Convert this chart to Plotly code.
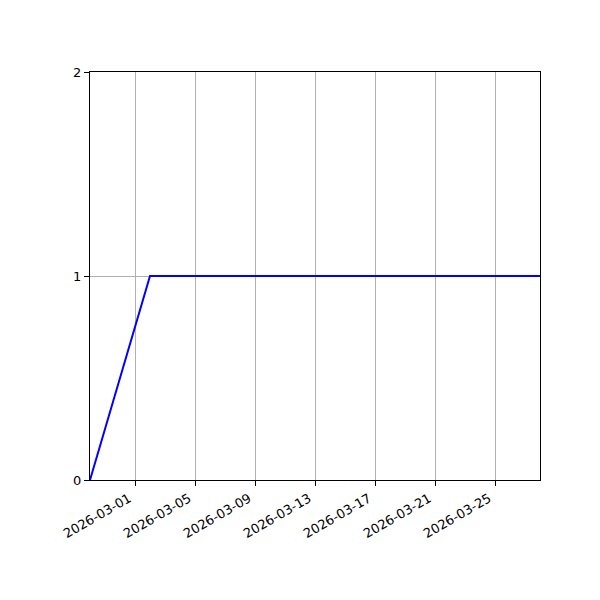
import plotly.graph_objects as go

# series
dates = ["2026-02-26", "2026-03-02", "2026-03-28"]
values = [0, 1, 1]

x_ticks = ["2026-03-01", "2026-03-05", "2026-03-09", "2026-03-13",
           "2026-03-17", "2026-03-21", "2026-03-25"]
y_ticks = [0, 1, 2]

fig = go.Figure()
fig.add_trace(go.Scatter(x=dates, y=values, mode="lines",
                         line=dict(color="#0000ff", width=2),
                         showlegend=False))

axis_style = dict(showline=True, linecolor="black", linewidth=1.1, mirror=True,
                  ticks="outside", ticklen=5, tickwidth=1.1, tickcolor="black",
                  zeroline=False, tickfont=dict(family="DejaVu Sans", size=13, color="black"))

fig.update_xaxes(range=["2026-02-26", "2026-03-28"], tickvals=x_ticks, ticktext=x_ticks,
                 tickangle=-30, ticklabelshift=-6, showgrid=True, gridcolor="#b0b0b0",
                 gridwidth=1.1, **axis_style)
fig.update_yaxes(range=[0, 2], tickvals=y_ticks, showgrid=True, gridcolor="#b0b0b0",
                 gridwidth=1.1, **axis_style)

# page body adds an 8px offset, so margins are shifted to compensate
fig.update_layout(width=600, height=600, plot_bgcolor="white", paper_bgcolor="white",
                  margin=dict(l=82, r=68, t=64, b=128))

fig.write_html("out.html")
